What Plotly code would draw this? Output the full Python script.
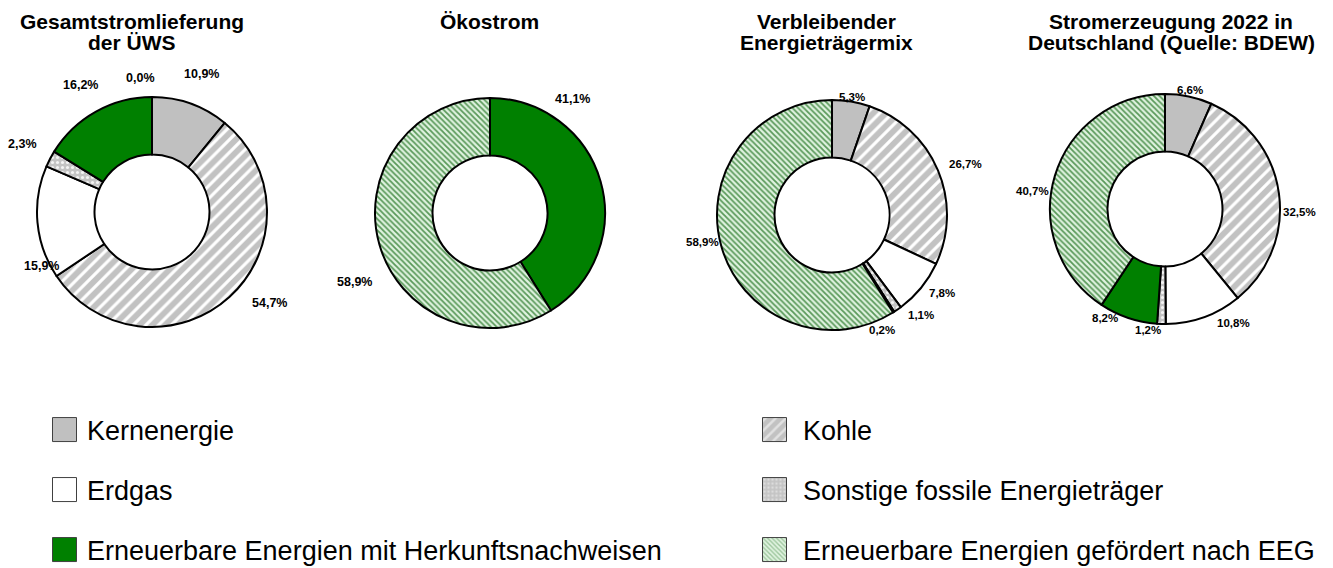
import math
import plotly.graph_objects as go

# ---- data -----------------------------------------------------------------
CATEGORIES = [
    "Kernenergie",
    "Kohle",
    "Erdgas",
    "Sonstige fossile Energieträger",
    "Erneuerbare Energien mit Herkunftsnachweisen",
    "Erneuerbare Energien gefördert nach EEG",
]

TITLES = [
    ["Gesamtstromlieferung", "der ÜWS"],
    ["Ökostrom"],
    ["Verbleibender", "Energieträgermix"],
    ["Stromerzeugung 2022 in", "Deutschland (Quelle: BDEW)"],
]

# shares in percent, same order as CATEGORIES (None = not part of this mix)
GESAMTSTROM = [10.9, 54.7, 15.9, 2.3, 16.2, 0.0]
OEKOSTROM = [None, None, None, None, 41.1, 58.9]
VERBLEIBEND = [5.3, 26.7, 7.8, 1.1, 0.2, 58.9]
BDEW_2022 = [6.6, 32.5, 10.8, 1.2, 8.2, 40.7]

SERIES = [GESAMTSTROM, OEKOSTROM, VERBLEIBEND, BDEW_2022]

# ---- styling ----------------------------------------------------------------
W, H = 1333, 568
FONT = "Liberation Sans, Arial, sans-serif"

STYLE = {
    "Kernenergie": dict(color="#c0c0c0", shape="", fg="#c0c0c0", bg="#c0c0c0", size=8, solidity=0.3),
    "Kohle": dict(color="#c6c6c6", shape="/", fg="#ffffff", bg="#c2c2c2", size=9, solidity=0.35),
    "Erdgas": dict(color="#ffffff", shape="", fg="#ffffff", bg="#ffffff", size=8, solidity=0.3),
    "Sonstige fossile Energieträger": dict(color="#c6c6c6", shape=".", fg="#f4f4f4", bg="#c4c4c4", size=5, solidity=0.3),
    "Erneuerbare Energien mit Herkunftsnachweisen": dict(color="#008000", shape="", fg="#008000", bg="#008000", size=8, solidity=0.3),
    "Erneuerbare Energien gefördert nach EEG": dict(color="#e0f3e0", shape="\\", fg="#5a995a", bg="#e0f3e0", size=4, solidity=0.45),
}

# donut geometry (pixels)
CENTERS = [(152, 212), (490, 213), (832, 215), (1165, 209)]
RADIUS = 115
HOLE = 0.5
TITLE_X = [132, 489, 826, 1171]
TITLE_Y = [21, 43]
TITLE_SIZE = 21
LABEL_SIZE = [12.5, 12.5, 11.5, 11.5]
LABEL_RADIUS = [146, 146, 132, 130]
# per-label tweaks: (angle offset in degrees, radius offset in px)
LABEL_NUDGE = {
    (0, 1): (-10, 3), (0, 2): (-21, -23), (0, 5): (-5, -11),
    (1, 4): (-38, -5), (1, 5): (-11, 6),
    (2, 0): (0, -12), (2, 1): (2, 11), (2, 2): (-4, 3), (2, 3): (-7, 2), (2, 4): (9, -7), (2, 5): (4, 0),
    (3, 0): (0, -8), (3, 1): (9, 5), (3, 2): (-11, 3), (3, 3): (6, -8), (3, 4): (10, -6), (3, 5): (-9, 4),
}

# legend layout (pixels): row centres, column left edges and symbol area widths
LEGEND_ROWS_Y = [430, 490, 550]
LEGEND_COLS_X = [42, 746]
LEGEND_ITEMWIDTH = [35, 47]
LEGEND_FONT_SIZE = 27


def px_x(x):
    return x / W


def px_y(y):
    return 1 - y / H


def fmt(v):
    return f"{v:.1f}".replace(".", ",") + "%"


fig = go.Figure()
annotations = []

for k, values in enumerate(SERIES):
    cats = [c for c, v in zip(CATEGORIES, values) if v is not None]
    vals = [v for v in values if v is not None]
    idx = [i for i, v in enumerate(values) if v is not None]
    cx, cy = CENTERS[k]

    fig.add_trace(go.Pie(
        labels=cats,
        values=vals,
        hole=HOLE,
        sort=False,
        direction="clockwise",
        rotation=0,
        textinfo="none",
        hoverinfo="label+percent",
        showlegend=False,
        domain=dict(x=[px_x(cx - RADIUS), px_x(cx + RADIUS)],
                    y=[px_y(cy + RADIUS), px_y(cy - RADIUS)]),
        marker=dict(
            colors=[STYLE[c]["color"] for c in cats],
            line=dict(color="#000000", width=2),
            pattern=dict(
                shape=[STYLE[c]["shape"] for c in cats],
                fgcolor=[STYLE[c]["fg"] for c in cats],
                bgcolor=[STYLE[c]["bg"] for c in cats],
                size=[STYLE[c]["size"] for c in cats],
                solidity=[STYLE[c]["solidity"] for c in cats],
            ),
        ),
    ))

    # value labels around the ring, placed at each slice's mid angle
    total = sum(vals)
    cum = 0.0
    for i, v in zip(idx, vals):
        mid = (cum + v / 2) / total * 360.0
        cum += v
        d_ang, d_r = LABEL_NUDGE.get((k, i), (0, 0))
        ang = math.radians(mid + d_ang)
        r = LABEL_RADIUS[k] + d_r
        lx = cx + r * math.sin(ang)
        ly = cy - r * math.cos(ang)
        annotations.append(dict(
            x=px_x(lx), y=px_y(ly), xref="paper", yref="paper",
            xanchor="center", yanchor="middle", showarrow=False,
            text=f"<b>{fmt(v)}</b>",
            font=dict(family=FONT, size=LABEL_SIZE[k], color="#000000"),
        ))

    # chart titles
    for j, line in enumerate(TITLES[k]):
        annotations.append(dict(
            x=px_x(TITLE_X[k]), y=px_y(TITLE_Y[j]), xref="paper", yref="paper",
            xanchor="center", yanchor="middle", showarrow=False,
            text=f"<b>{line}</b>",
            font=dict(family=FONT, size=TITLE_SIZE, color="#000000"),
        ))

# legend entries: one empty bar trace per category, each in its own legend box
legend_layouts = {}
for i, cat in enumerate(CATEGORIES):
    st = STYLE[cat]
    lname = "legend" if i == 0 else f"legend{i + 1}"
    fig.add_trace(go.Bar(
        x=[None], y=[None], name=cat, legend=lname, showlegend=True,
        hoverinfo="skip",
        marker=dict(
            color=st["color"],
            line=dict(color="#404040", width=1),
            pattern=dict(shape=st["shape"], fgcolor=st["fg"], bgcolor=st["bg"],
                         size=st["size"], solidity=st["solidity"]),
        ),
    ))
    row, col = divmod(i, 2)
    legend_layouts[lname] = dict(
        x=px_x(LEGEND_COLS_X[col]), y=px_y(LEGEND_ROWS_Y[row]),
        xanchor="left", yanchor="middle",
        orientation="v", bgcolor="rgba(0,0,0,0)", borderwidth=0,
        itemwidth=LEGEND_ITEMWIDTH[col], itemclick=False, itemdoubleclick=False,
        font=dict(family=FONT, size=LEGEND_FONT_SIZE, color="#000000"),
    )

fig.update_layout(
    width=W, height=H,
    margin=dict(l=0, r=0, t=0, b=0, autoexpand=False),
    paper_bgcolor="#ffffff", plot_bgcolor="#ffffff",
    xaxis=dict(visible=False), yaxis=dict(visible=False),
    annotations=annotations,
    **legend_layouts,
)

# enlarge the legend swatches to 24 px squares
post_js = """
var gd = document.getElementById('{plot_id}');
function growSwatches() {
  gd.querySelectorAll('.legendpoints path').forEach(function (p) {
    p.setAttribute('d', 'M12,12H-12V-12H12Z');
  });
}
growSwatches();
gd.on('plotly_afterplot', growSwatches);
"""

fig.write_html("out.html", post_script=post_js)
